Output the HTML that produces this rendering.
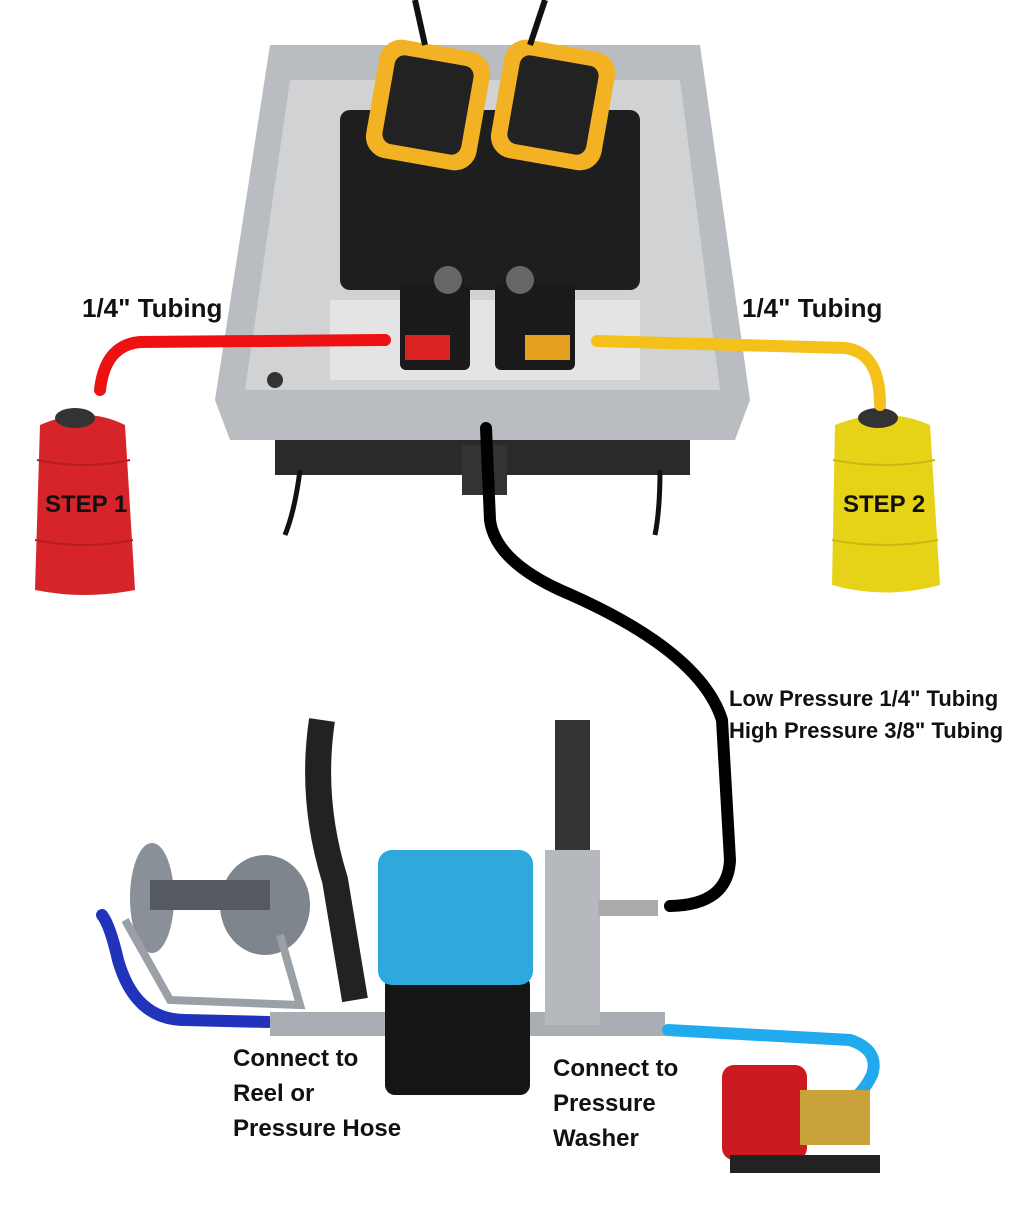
<!DOCTYPE html>
<html><head><meta charset="utf-8"><style>
html,body{margin:0;padding:0;background:#fff}
body{width:1027px;height:1210px;position:relative;overflow:hidden;font-family:"Liberation Sans",sans-serif}
.t{position:absolute;font-weight:bold;color:#111;white-space:nowrap}
</style></head><body>
<svg width="1027" height="1210" style="position:absolute;left:0;top:0">
<rect x="275" y="440" width="415" height="35" fill="#2a2a2a"/>
<path d="M300 470 Q295 510 285 535" stroke="#111" stroke-width="5" fill="none"/>
<path d="M660 470 Q660 510 655 535" stroke="#111" stroke-width="5" fill="none"/>
<rect x="462" y="445" width="45" height="50" fill="#333"/>
<path d="M270 45 L700 45 L750 400 L735 440 L230 440 L215 400 Z" fill="#b9bcc0"/>
<path d="M290 80 L680 80 L720 390 L245 390 Z" fill="#d0d2d4"/>
<rect x="330" y="300" width="310" height="80" fill="#e4e4e4"/>
<rect x="340" y="110" width="300" height="180" rx="10" fill="#1e1e1e"/>
<rect x="400" y="285" width="70" height="85" rx="6" fill="#1a1a1a"/>
<rect x="495" y="285" width="80" height="85" rx="6" fill="#1a1a1a"/>
<rect x="405" y="335" width="45" height="25" fill="#d22"/>
<rect x="525" y="335" width="45" height="25" fill="#e8a020"/>
<circle cx="448" cy="280" r="14" fill="#666"/><circle cx="520" cy="280" r="14" fill="#666"/>
<circle cx="275" cy="380" r="8" fill="#333"/>
<g transform="rotate(10 428 105)"><rect x="372" y="45" width="112" height="120" rx="22" fill="#f2b223"/><rect x="388" y="60" width="80" height="90" rx="10" fill="#222"/></g>
<g transform="rotate(10 553 105)"><rect x="497" y="45" width="112" height="120" rx="22" fill="#f2b223"/><rect x="513" y="60" width="80" height="90" rx="10" fill="#222"/></g>
<path d="M425 45 L415 0 M530 45 L545 0" stroke="#111" stroke-width="6"/>
<path d="M40 425 Q85 405 125 425 L135 590 Q85 600 35 590 Z" fill="#d6252a"/>
<g stroke="#b81c21" stroke-width="2" fill="none"><path d="M37 460 Q85 470 130 460"/><path d="M35 540 Q85 550 133 540"/></g>
<ellipse cx="75" cy="418" rx="20" ry="10" fill="#333"/>
<path d="M835 425 Q885 405 930 425 L940 585 Q885 600 832 585 Z" fill="#e6d318"/>
<g stroke="#cbb812" stroke-width="2" fill="none"><path d="M833 460 Q885 470 935 460"/><path d="M832 540 Q885 550 938 540"/></g>
<ellipse cx="878" cy="418" rx="20" ry="10" fill="#333"/>
<path d="M100 390 Q105 345 140 342 L385 340" stroke="#ee1111" stroke-width="12" fill="none" stroke-linecap="round"/>
<path d="M597 341 L845 348 Q880 352 880 405" stroke="#f5c01a" stroke-width="12" fill="none" stroke-linecap="round"/>
<path d="M486 428 L490 520 Q495 560 560 590 Q700 650 722 720 L730 860 Q728 905 670 906" stroke="#000" stroke-width="12" fill="none" stroke-linecap="round"/>
<ellipse cx="152" cy="898" rx="22" ry="55" fill="#8a9098"/>
<ellipse cx="265" cy="905" rx="45" ry="50" fill="#7e858d"/>
<rect x="150" y="880" width="120" height="30" fill="#555a60"/>
<path d="M125 920 L170 1000 L300 1005 L280 935" stroke="#9aa0a6" stroke-width="8" fill="none"/>
<path d="M268 1022 L185 1020 Q135 1020 118 960 Q110 925 102 915" stroke="#2233bb" stroke-width="12" fill="none" stroke-linecap="round"/>
<path d="M322 720 Q310 800 335 880 L355 1000" stroke="#222" stroke-width="26" fill="none"/>
<rect x="270" y="1012" width="395" height="24" fill="#a8aeb3"/>
<rect x="385" y="975" width="145" height="120" rx="10" fill="#151515"/>
<rect x="378" y="850" width="155" height="135" rx="14" fill="#2fa8de"/>
<rect x="555" y="720" width="35" height="140" fill="#333"/>
<rect x="545" y="850" width="55" height="175" fill="#b5b9bd"/>
<rect x="598" y="900" width="60" height="16" fill="#aaa"/>
<path d="M668 1030 L850 1040 Q880 1050 872 1075 Q860 1100 835 1110" stroke="#22aaee" stroke-width="12" fill="none" stroke-linecap="round"/>
<rect x="722" y="1065" width="85" height="95" rx="12" fill="#cc1a22"/>
<rect x="800" y="1090" width="70" height="55" fill="#c9a23a"/>
<rect x="730" y="1155" width="150" height="18" fill="#222"/>
</svg>
<div class="t" style="left:82px;top:293px;font-size:26px">1/4" Tubing</div>
<div class="t" style="left:742px;top:293px;font-size:26px">1/4" Tubing</div>
<div class="t" style="left:45px;top:491px;font-size:24px">STEP 1</div>
<div class="t" style="left:843px;top:491px;font-size:24px">STEP 2</div>
<div class="t" style="left:729px;top:683px;font-size:22px;line-height:32px">Low Pressure 1/4" Tubing<br>High Pressure 3/8" Tubing</div>
<div class="t" style="left:233px;top:1041px;font-size:24px;line-height:35px">Connect to<br>Reel or<br>Pressure Hose</div>
<div class="t" style="left:553px;top:1051px;font-size:24px;line-height:35px">Connect to<br>Pressure<br>Washer</div>
</body></html>
